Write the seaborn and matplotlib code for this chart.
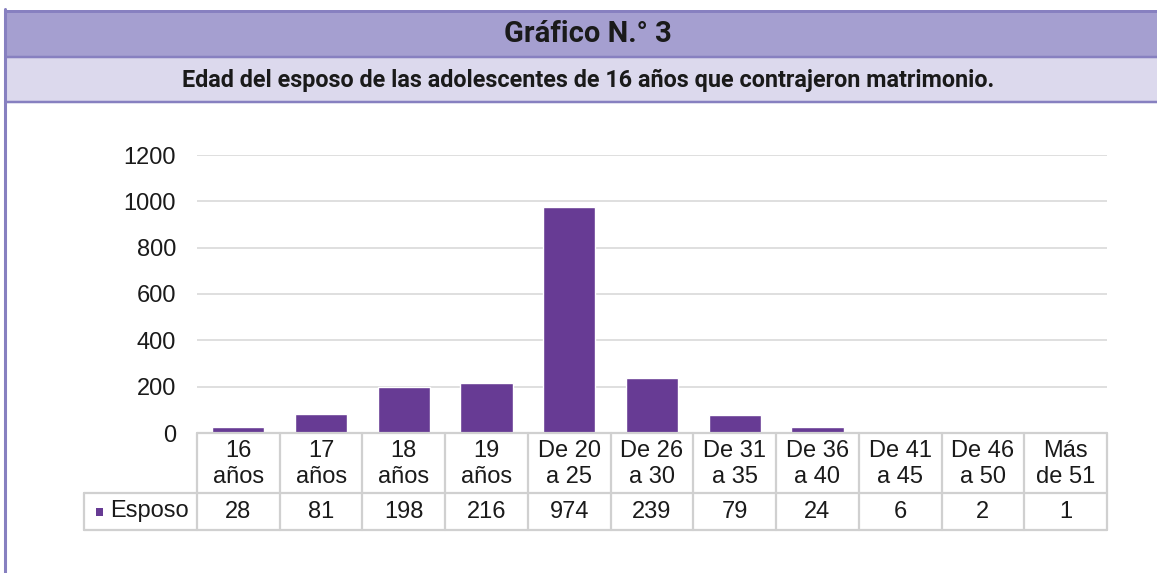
import matplotlib
matplotlib.use("Agg")
import matplotlib.pyplot as plt
import matplotlib.transforms as mtransforms
from matplotlib.lines import Line2D
from matplotlib.patches import Rectangle
import seaborn as sns
import pandas as pd

categories = ["16\naños", "17\naños", "18\naños", "19\naños", "De 20\na 25", "De 26\na 30",
              "De 31\na 35", "De 36\na 40", "De 41\na 45", "De 46\na 50", "Más\nde 51"]
values = [28, 81, 198, 216, 974, 239, 79, 24, 6, 2, 1]
series_name = "Esposo"
yticks = [0, 200, 400, 600, 800, 1000, 1200]
title = "Gráfico N.° 3"
subtitle = "Edad del esposo de las adolescentes de 16 años que contrajeron matrimonio."

sns.set_theme(style="white")
plt.rcParams['font.family'] = ['Liberation Sans', 'DejaVu Sans']

W, H = 1157, 573
fig = plt.figure(figsize=(W / 100, H / 100), dpi=100)
fig.patch.set_facecolor("white")

def fx(px):
    return px / W

def fy(py):
    return 1 - py / H

FS = 17

# header bands
band_col = "#a59fd0"
sub_col = "#dcd9ed"
border_col = "#8780c0"
fig.add_artist(Rectangle((fx(6), fy(56)), 1, fy(11) - fy(56), transform=fig.transFigure,
                         facecolor=band_col, edgecolor="none"))
fig.add_artist(Rectangle((fx(6), fy(102)), 1, fy(57) - fy(102), transform=fig.transFigure,
                         facecolor=sub_col, edgecolor="none"))
for py, lw in [(10.5, 3), (56.5, 2.5), (102, 2.5)]:
    fig.add_artist(Line2D([fx(6), 1], [fy(py), fy(py)], transform=fig.transFigure,
                          color=border_col, lw=lw * 0.72))
fig.add_artist(Line2D([fx(5.5), fx(5.5)], [fy(9), 0], transform=fig.transFigure,
                      color=border_col, lw=2.2))
fig.text(fx(588), fy(34), title, ha="center", va="center", fontsize=21,
         fontweight="bold", family=["Roboto", "DejaVu Sans"], color="#1a1a1a")
fig.text(fx(588), fy(80), subtitle, ha="center", va="center", fontsize=16.8,
         fontweight="bold", family=["Roboto", "DejaVu Sans"], color="#1a1a1a")

# plot area
x0, x1 = 197, 1107
y0, y1 = 433, 155
ax = fig.add_axes([fx(x0), fy(y0), fx(x1) - fx(x0), fy(y1) - fy(y0)])
df = pd.DataFrame({"cat": categories, "val": values})
sns.barplot(data=df, x="cat", y="val", color="#673b94", saturation=1, width=0.63, ax=ax)
ax.set_ylim(0, 1200)
ax.set_xlim(-0.5, len(categories) - 0.5)
ax.set_yticks(yticks)
ax.set_yticklabels([str(t) for t in yticks], fontsize=FS, color="#1a1a1a")
ax.tick_params(axis="y", length=0, pad=15)
ax.set_xticks([])
ax.set_xlabel("")
ax.set_ylabel("")
ax.yaxis.grid(True, color="#d9d9d9", lw=1.2)
ax.set_axisbelow(True)
for s in ["top", "right", "left", "bottom"]:
    ax.spines[s].set_visible(False)

# data table below axis
tcol = "#d0d0d0"
trans = mtransforms.blended_transform_factory(ax.transData, fig.transFigure)
n = len(categories)
row1_top, row1_bot, row2_bot = 433, 493, 530
leg_left = -0.5 + (84 - x0) / ((x1 - x0) / n)
for i in range(n + 1):
    xi = i - 0.5
    ax.add_line(Line2D([xi, xi], [fy(row1_top), fy(row2_bot)], transform=trans,
                       color=tcol, lw=1.6, clip_on=False))
for py, xl in [(row1_top, -0.5), (row1_bot, leg_left), (row2_bot, leg_left)]:
    ax.add_line(Line2D([xl, n - 0.5], [fy(py), fy(py)], transform=trans,
                       color=tcol, lw=1.6, clip_on=False))
ax.add_line(Line2D([leg_left, leg_left], [fy(row1_bot), fy(row2_bot)], transform=trans,
                   color=tcol, lw=1.6, clip_on=False))
for i, (c, v) in enumerate(zip(categories, values)):
    ax.text(i, fy(464), c, transform=trans, ha="center", va="center", fontsize=FS,
            color="#1a1a1a", linespacing=1.25)
    ax.text(i, fy(512), str(v), transform=trans, ha="center", va="center", fontsize=FS,
            color="#1a1a1a")
ax.add_patch(Rectangle((leg_left + 0.14, fy(516)), 0.09, fy(508) - fy(516), transform=trans,
                       facecolor="#673b94", edgecolor="none", clip_on=False))
ax.text(leg_left + 0.31, fy(511), series_name, transform=trans, ha="left", va="center",
        fontsize=FS, color="#1a1a1a")

fig.savefig("out.png", dpi=100)
